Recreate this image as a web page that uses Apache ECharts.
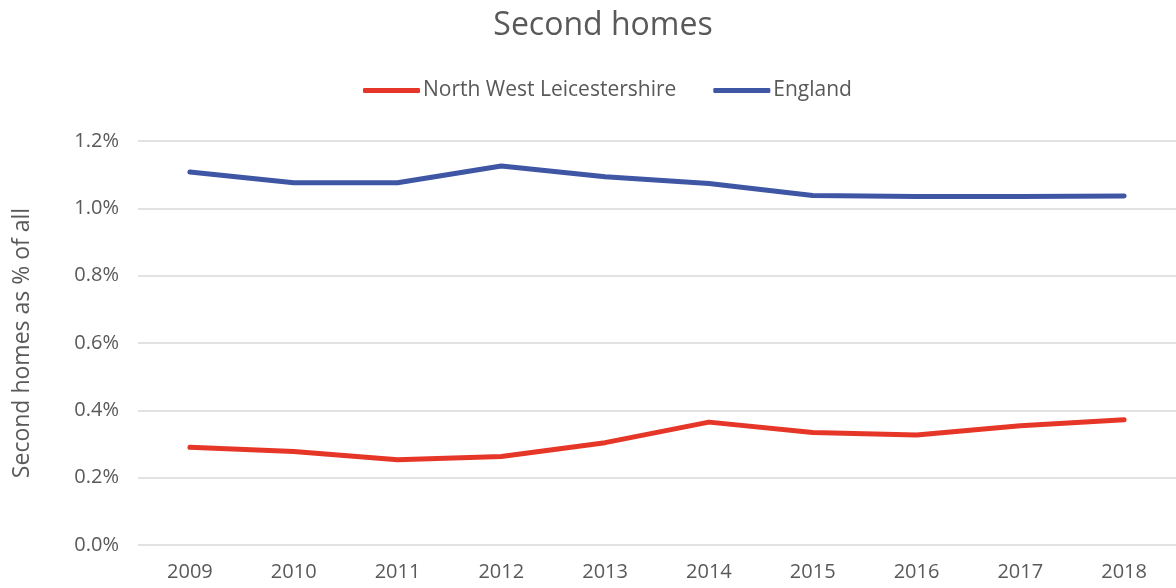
<!DOCTYPE html>
<html><head><meta charset="utf-8">
<script src="https://cdn.jsdelivr.net/npm/echarts@6/dist/echarts.min.js"></script>
<style>html,body{margin:0;padding:0;background:#fff}#c{width:1176px;height:588px}</style>
</head><body><div id="c"></div>
<script>
const years = ['2009','2010','2011','2012','2013','2014','2015','2016','2017','2018'];
const northWestLeics = [0.290,0.278,0.253,0.263,0.304,0.365,0.334,0.327,0.354,0.372];
const england = [1.108,1.076,1.076,1.126,1.094,1.074,1.038,1.035,1.035,1.037];
const yTicks = [0,0.2,0.4,0.6,0.8,1.0,1.2];

const FONT = '"Open Sans", sans-serif';
const TXT = '#595959';
const chart = echarts.init(document.getElementById('c'));
chart.setOption({
  animation:false,
  backgroundColor:'#fff',
  title:{text:'Second homes',left:598,top:5,textAlign:'center',
    textStyle:{fontFamily:FONT,fontSize:32,fontWeight:'normal',color:TXT}},
  legend:{top:75,left:358,itemWidth:57,itemHeight:5,itemGap:37,icon:'roundRect',
    textStyle:{fontFamily:FONT,fontSize:21,color:TXT,padding:[0,0,0,-2]}},
  grid:{left:138,right:-4,top:141,bottom:43},
  xAxis:{type:'category',data:years,boundaryGap:true,
    axisLine:{show:false},axisTick:{show:false},
    axisLabel:{fontFamily:FONT,fontSize:20,color:TXT,margin:17}},
  yAxis:{type:'value',min:yTicks[0],max:yTicks[yTicks.length-1],interval:0.2,
    name:'Second homes as % of all',nameLocation:'middle',nameGap:104,
    nameTextStyle:{fontFamily:FONT,fontSize:23,color:TXT},
    axisLabel:{fontFamily:FONT,fontSize:20,color:TXT,margin:19,
      formatter:v=>v.toFixed(1)+'%'},
    splitLine:{lineStyle:{color:'#d9d9d9',width:1.5}}},
  series:[
    {name:'North West Leicestershire',type:'line',data:northWestLeics,symbol:'none',
      lineStyle:{color:'#e63628',width:5,cap:'round',join:'round'},itemStyle:{color:'#e63628'}},
    {name:'England',type:'line',data:england,symbol:'none',
      lineStyle:{color:'#3f56a5',width:5,cap:'round',join:'round'},itemStyle:{color:'#3f56a5'}}
  ]
});
</script></body></html>
